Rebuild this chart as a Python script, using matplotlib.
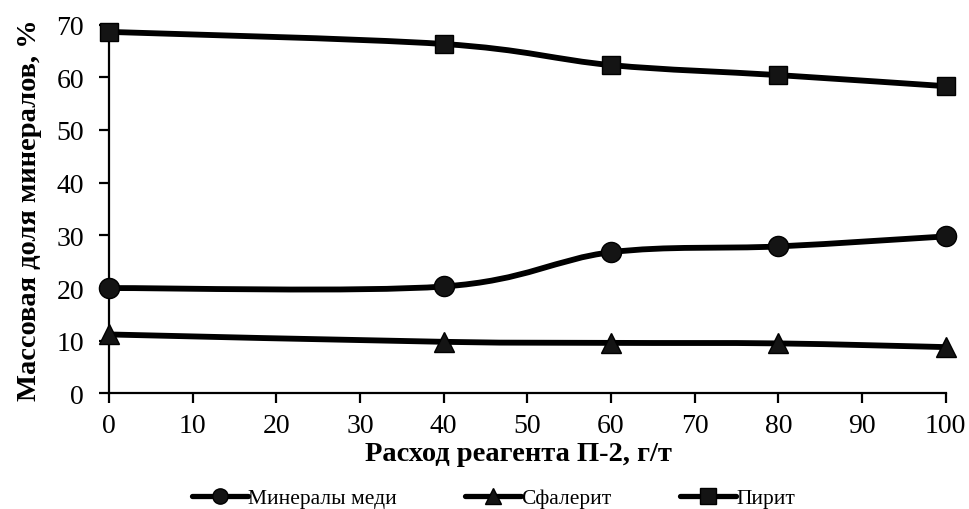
import numpy as np
import matplotlib
matplotlib.use("Agg")
import matplotlib.pyplot as plt
from matplotlib.path import Path
from matplotlib.patches import PathPatch
from matplotlib.lines import Line2D

plt.rcParams['font.family'] = ['Liberation Serif', 'DejaVu Serif']

x = [0, 40, 60, 80, 100]
copper = [20.0, 20.3, 26.8, 27.9, 29.8]
sphalerite = [11.2, 9.8, 9.6, 9.5, 8.8]
pyrite = [68.6, 66.3, 62.3, 60.4, 58.3]
series_names = ["Минералы меди", "Сфалерит", "Пирит"]
markers = ["o", "^", "s"]

fig = plt.figure(figsize=(9.69, 5.10), dpi=100)
ax = fig.add_axes([0.1125, 0.2265, 0.8635, 0.7235])

def smooth_path(xs, ys):
    xs = np.asarray(xs, float); ys = np.asarray(ys, float)
    n = len(xs)
    verts = [(xs[0], ys[0])]
    codes = [Path.MOVETO]
    for i in range(n - 1):
        p0 = np.array([xs[max(i-1, 0)], ys[max(i-1, 0)]])
        p1 = np.array([xs[i], ys[i]])
        p2 = np.array([xs[i+1], ys[i+1]])
        p3 = np.array([xs[min(i+2, n-1)], ys[min(i+2, n-1)]])
        c1 = p1 + (p2 - p0) / 6.0
        c2 = p2 - (p3 - p1) / 6.0
        verts += [tuple(c1), tuple(c2), tuple(p2)]
        codes += [Path.CURVE4] * 3
    return Path(verts, codes)

lw = 4.2
msizes = [14.5, 15, 13.5]
for ys, m, ms in zip([copper, sphalerite, pyrite], markers, msizes):
    ax.add_patch(PathPatch(smooth_path(x, ys), facecolor='none', edgecolor='black',
                           lw=lw, capstyle='round', joinstyle='round', zorder=2))
    ax.plot(x, ys, linestyle='none', marker=m, markersize=ms, color='#141414',
            markeredgecolor='black', clip_on=False, zorder=3)

ax.set_xlim(0, 100)
ax.set_ylim(0, 70)
ax.set_xticks(np.arange(0, 101, 10))
ax.set_yticks(np.arange(0, 71, 10))
for s in ['top', 'right']:
    ax.spines[s].set_visible(False)
for s in ['left', 'bottom']:
    ax.spines[s].set_linewidth(1.6)
ax.tick_params(axis='both', direction='out', length=7, width=1.6, labelsize=20)
ax.tick_params(axis='x', pad=7)
ax.tick_params(axis='y', pad=11)

ax.set_xlabel("Расход реагента П-2, г/т", fontsize=20.5, fontweight='bold', labelpad=2)
ax.xaxis.label.set_x(0.489)
ax.set_ylabel("Массовая доля минералов, %", fontsize=20.5, fontweight='bold', labelpad=10)

lefts = [192, 465, 680]
for name, m, ms, lx in zip(series_names, markers, [11, 11.5, 11], lefts):
    h = Line2D([], [], color='black', lw=3.8, marker=m, markersize=ms, markerfacecolor='#141414',
               solid_capstyle='round')
    fig.legend([h], [name], loc='center left', bbox_to_anchor=(lx / 969, 1 - 499 / 510),
               frameon=False, fontsize=15.5, handlelength=2.6, handletextpad=0.0,
               borderpad=0, borderaxespad=0)

fig.savefig("out.png", dpi=100)
